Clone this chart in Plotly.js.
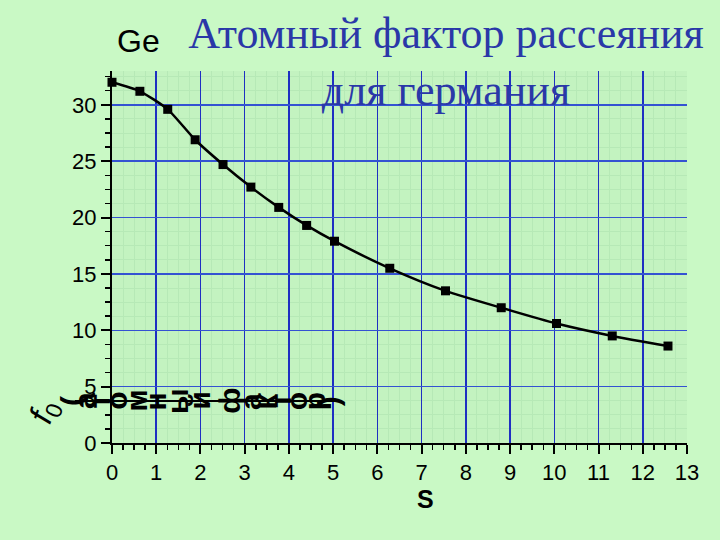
<!DOCTYPE html>
<html>
<head>
<meta charset="utf-8">
<script src="https://cdn.plot.ly/plotly-3.0.1.min.js"></script>
<style>
  html, body { margin: 0; padding: 0; background: #c9f9c5; }
  #chart { width: 720px; height: 540px; }
</style>
</head>
<body>
<div id="chart"></div>
<script>
// ---- data ----
const sValues  = [0, 0.63, 1.26, 1.88, 2.51, 3.14, 3.77, 4.40, 5.03, 6.28, 7.54, 8.80, 10.05, 11.31, 12.57];
const f0Values = [32.0, 31.2, 29.6, 26.9, 24.7, 22.7, 20.9, 19.3, 17.9, 15.5, 13.5, 12.0, 10.6, 9.5, 8.6];
const titleText = 'Атомный фактор рассеяния<br>для германия';
const elementLabel = 'Ge';
const xTitle = '<b>S</b>';
const yTitleSymbol = '<i>f</i><sub>0</sub>';
const yTitleWords = '(атомный фактор)';

// ---- layout helpers (pixel geometry of the plot area) ----
const W = 720, H = 540;
const L = 112, R = 33, T = 71, B = 97;
const plotW = W - L - R, plotH = H - T - B;
const px2x = px => (px - L) / plotW;
const py2y = py => (H - B - py) / plotH;

const sans = 'Liberation Sans, Arial, sans-serif';

const trace = {
  x: sValues, y: f0Values,
  type: 'scatter', mode: 'lines+markers',
  line: { color: '#000', width: 2.5, shape: 'spline', smoothing: 0.6 },
  marker: { symbol: 'square', size: 9, color: '#000' },
  cliponaxis: false, showlegend: false, hoverinfo: 'x+y'
};

function note(text, px, py, size, angle) {
  return { text: text, xref: 'paper', yref: 'paper', x: px2x(px), y: py2y(py),
    xanchor: 'center', yanchor: 'middle', showarrow: false, textangle: angle || 0,
    font: { family: sans, size: size, color: '#000' } };
}

const annotations = [
  note(elementLabel, 138, 41, 32),
  note(xTitle, 425, 499, 25),
  note(yTitleSymbol, 45, 412, 33, -70)
];

// lay out the rotated-letter axis caption using natural advance widths
(function () {
  const cv = document.createElement('canvas').getContext('2d');
  cv.font = 'bold 29.5px "Liberation Sans"';
  let cur = 66;
  for (const ch of yTitleWords) {
    const adv = cv.measureText(ch).width;
    if (ch !== ' ') annotations.push(note('<b>' + ch + '</b>', cur + adv / 2, 401, 30, -90));
    cur += adv;
  }
})();

const layout = {
  width: W, height: H,
  paper_bgcolor: '#c9f9c5',
  plot_bgcolor: '#c3f3c0',
  margin: { l: L, r: R, t: T, b: B, pad: 0 },
  title: {
    text: titleText, x: 446 / W, xanchor: 'center', xref: 'container',
    y: 1 - 48 / H, yanchor: 'middle', yref: 'container',
    font: { family: 'Liberation Serif, Times New Roman, serif', size: 44, color: '#2a38a8' }
  },
  xaxis: {
    range: [0, 13], tick0: 0, dtick: 1, ticks: 'outside', ticklen: 9, tickwidth: 2,
    tickcolor: '#000', showline: true, linecolor: '#000', linewidth: 2,
    showgrid: true, gridcolor: '#1e2fc2', gridwidth: 1.5, zeroline: false,
    tickfont: { family: sans, size: 22, color: '#000' },
    minor: { dtick: 0.25, ticks: 'outside', ticklen: 5, tickwidth: 1.5, tickcolor: '#000',
             showgrid: true, gridcolor: '#b6e9b6', gridwidth: 1 },
    fixedrange: true
  },
  yaxis: {
    range: [0, 33], tick0: 0, dtick: 5, ticks: 'outside', ticklen: 9, tickwidth: 2,
    tickcolor: '#000', showline: true, linecolor: '#000', linewidth: 2,
    showgrid: true, gridcolor: '#3452d2', gridwidth: 1.5, zeroline: false,
    tickfont: { family: sans, size: 22, color: '#000' },
    minor: { dtick: 1.25, ticks: 'outside', ticklen: 5, tickwidth: 1.5, tickcolor: '#000',
             showgrid: true, gridcolor: '#b6e9b6', gridwidth: 1 },
    fixedrange: true
  },
  shapes: [
    { type: 'line', xref: 'paper', yref: 'paper', x0: px2x(75), x1: px2x(335),
      y0: py2y(401), y1: py2y(401), line: { color: '#000', width: 2 } }
  ],
  annotations: annotations
};

Plotly.newPlot('chart', [trace], layout, { displayModeBar: false, staticPlot: true });
</script>
</body>
</html>
